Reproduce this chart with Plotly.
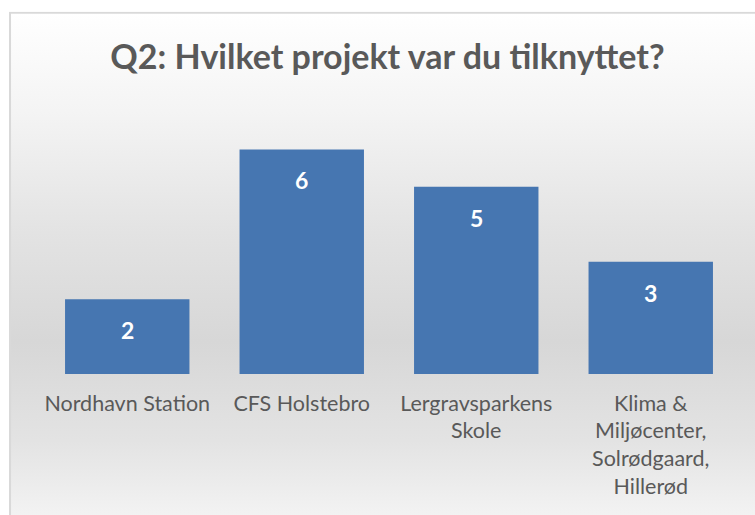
import base64
import plotly.graph_objects as go

# Data
projects = [
    "Nordhavn Station",
    "CFS Holstebro",
    "Lergravsparkens<br>Skole",
    "Klima &<br>Miljøcenter,<br>Solrødgaard,<br>Hillerød",
]
answers = [2, 6, 5, 3]

TITLE = "Q2: Hvilket projekt var du tilknyttet?"
BAR_COLOR = "#4676b1"
TEXT_COLOR = "#595959"
FONT = "Lato, 'Open Sans', sans-serif"

W, H = 755, 515
# plot area in pixels
PL, PR, PT, PB = 40, 738, 111.5, 374


def px_x(px):
    return (px - PL) / (PR - PL)


def px_y(py):
    return (PB - py) / (PB - PT)


# Excel-like chart area: vertical grey gradient with a thin border
bg_svg = """<svg xmlns='http://www.w3.org/2000/svg' width='760' height='520' preserveAspectRatio='none'>
<defs><linearGradient id='g' x1='0' y1='0' x2='0' y2='1'>
<stop offset='0' stop-color='#ffffff'/>
<stop offset='0.18' stop-color='#f4f4f4'/>
<stop offset='0.40' stop-color='#e3e3e3'/>
<stop offset='0.60' stop-color='#d7d7d7'/>
<stop offset='0.78' stop-color='#e3e3e3'/>
<stop offset='1' stop-color='#fcfcfc'/>
</linearGradient></defs>
<rect x='1' y='1' width='780' height='540' fill='url(#g)' stroke='#d9d9d9' stroke-width='2'/>
</svg>"""
bg_src = "data:image/svg+xml;base64," + base64.b64encode(bg_svg.encode()).decode()

fig = go.Figure()
fig.add_trace(go.Bar(
    x=projects,
    y=answers,
    marker=dict(color=BAR_COLOR, line=dict(width=0)),
    width=0.713,
    hoverinfo="x+y",
))

for p, v in zip(projects, answers):
    fig.add_annotation(
        x=p, y=v, text=f"<b>{v}</b>", showarrow=False,
        yanchor="middle", yshift=-31,
        font=dict(family=FONT, size=23, color="white"),
    )

fig.add_layout_image(
    source=bg_src,
    xref="paper", yref="paper",
    x=px_x(9), y=px_y(11),
    sizex=px_x(W + 25) - px_x(9), sizey=px_y(11) - px_y(H + 25),
    xanchor="left", yanchor="top",
    sizing="stretch", layer="below",
)

fig.update_layout(
    width=W, height=H,
    margin=dict(l=PL, r=W - PR, t=PT, b=H - PB),
    paper_bgcolor="white",
    plot_bgcolor="rgba(0,0,0,0)",
    showlegend=False,
    title=dict(
        text=f"<b>{TITLE}</b>",
        x=387.5 / W, xanchor="center",
        y=1 - 57 / H, yanchor="middle",
        xref="container", yref="container",
        font=dict(family=FONT, size=34, color=TEXT_COLOR),
    ),
    xaxis=dict(
        showgrid=False, zeroline=False, showline=False, ticks="",
        tickfont=dict(family=FONT, size=21.5, color=TEXT_COLOR),
        ticklabelstandoff=14,
    ),
    yaxis=dict(
        range=[0, 7], visible=False, showgrid=False, zeroline=False,
    ),
)

# drop the browser's default 8px body margin so the figure sits at 0,0
fig.write_html(
    "out.html",
    config={"displayModeBar": False},
    post_script="document.body.style.margin='0';",
)
